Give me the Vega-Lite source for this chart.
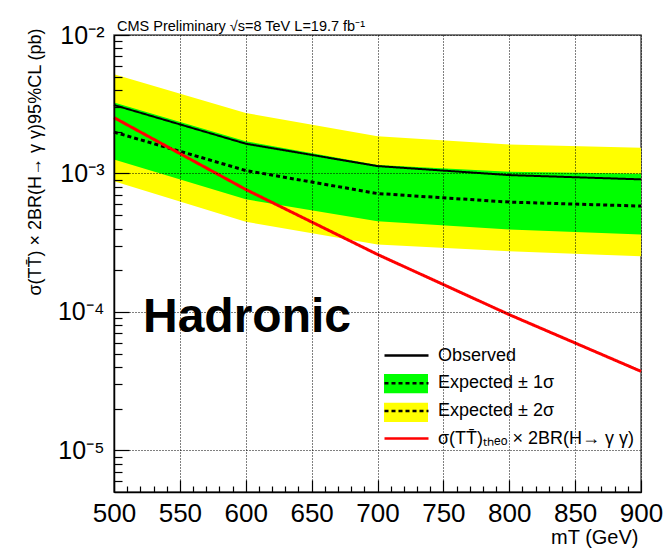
{
  "$schema": "https://vega.github.io/schema/vega-lite/v6.json",
  "width": 527,
  "height": 457,
  "autosize": {"type": "none"},
  "padding": {"left": 114, "top": 35, "right": 23, "bottom": 57},
  "background": "white",
  "config": {
    "font": "Liberation Sans",
    "view": {"stroke": "#555555", "strokeWidth": 1.5},
    "axis": {"labelColor": "black", "titleColor": "black", "titleFontWeight": "normal", "labelFont": "Liberation Sans", "titleFont": "Liberation Sans"}
  },
  "title": {"text": "CMS Preliminary √s=8 TeV L=19.7 fb⁻¹", "anchor": "start", "frame": "group", "fontSize": 14.5, "fontWeight": "normal", "color": "black", "dx": 3, "offset": -11},
  "data": {"values": [
    {"mass": 500, "obs": 0.00312, "exp": 0.00199, "m1": 0.00126, "p1": 0.00326, "m2": 0.00088, "p2": 0.0052, "theo": 0.00253},
    {"mass": 600, "obs": 0.00164, "exp": 0.00105, "m1": 0.00065, "p1": 0.00171, "m2": 0.000448, "p2": 0.00273, "theo": 0.000766},
    {"mass": 700, "obs": 0.00113, "exp": 0.000716, "m1": 0.000452, "p1": 0.00115, "m2": 0.000307, "p2": 0.00186, "theo": 0.00026},
    {"mass": 800, "obs": 0.000973, "exp": 0.000621, "m1": 0.000393, "p1": 0.00103, "m2": 0.000274, "p2": 0.00162, "theo": 0.0000955},
    {"mass": 900, "obs": 0.000906, "exp": 0.000581, "m1": 0.000362, "p1": 0.000996, "m2": 0.000252, "p2": 0.00153, "theo": 0.0000372}
  ]},
  "resolve": {"axis": {"x": "independent", "y": "independent"}},
  "layer": [
    {
      "mark": {"type": "area"},
      "encoding": {
        "x": {"field": "mass", "type": "quantitative", "scale": {"domain": [500, 900], "nice": false, "zero": false},
          "axis": {"orient": "bottom", "values": [500, 550, 600, 650, 700, 750, 800, 850, 900], "format": "d", "labelFontSize": 26, "labelPadding": 20, "tickSize": -12, "tickColor": "black", "tickWidth": 1.2, "labelFlush": false, "labelOverlap": false, "grid": true, "gridDash": [1, 2], "gridColor": "black", "gridWidth": 1, "domainColor": "black", "domainWidth": 1.5, "zindex": 1,
            "title": "mT (GeV)", "titleFontSize": 20, "titleAnchor": "end", "titleAlign": "right", "titleX": 524, "titleY": 51, "titleBaseline": "alphabetic"}},
        "y": {"field": "p2", "type": "quantitative", "scale": {"type": "log", "domain": [0.000005, 0.01], "nice": false},
          "axis": {"orient": "left", "values": [0.00001, 0.0001, 0.001, 0.01], "labelExpr": "'10' + (datum.value > 0.005 ? '⁻²' : datum.value > 0.0005 ? '⁻³' : datum.value > 0.00005 ? '⁻⁴' : '⁻⁵')", "labelFontSize": 25, "labelPadding": 25, "tickSize": -15, "tickColor": "black", "tickWidth": 1.2, "labelFlush": false, "labelOverlap": false, "grid": true, "gridDash": [1, 2], "gridColor": "black", "gridWidth": 1, "domainColor": "black", "domainWidth": 1.5, "zindex": 1,
            "title": "σ(TT̄) × 2BR(H→ γ γ)95%CL (pb)", "titleFontSize": 18, "titleAnchor": "end", "titleAlign": "right", "titleAngle": -90, "titleX": -74, "titleY": -7, "titleBaseline": "alphabetic"}},
        "y2": {"field": "m2"},
        "fill": {"datum": "f2", "type": "nominal",
          "scale": {"domain": ["fobs", "f1", "f2", "ftheo"], "range": ["transparent", "#00ff00", "#ffff00", "transparent"]},
          "legend": {"title": null, "orient": "none", "legendX": 283, "legendY": 311, "symbolType": "M-2.75,-1.2H2.75V1.2H-2.75Z", "symbolSize": 256, "symbolStrokeWidth": 0, "symbolStrokeColor": "transparent", "labelFontSize": 18, "labelOffset": 22, "rowPadding": 8.7, "labelOpacity": 0, "labelExpr": "''", "zindex": 1}}
      }
    },
    {
      "mark": {"type": "area"},
      "encoding": {
        "x": {"field": "mass", "type": "quantitative",
          "axis": {"orient": "bottom", "values": [510, 520, 530, 540, 560, 570, 580, 590, 610, 620, 630, 640, 660, 670, 680, 690, 710, 720, 730, 740, 760, 770, 780, 790, 810, 820, 830, 840, 860, 870, 880, 890], "labels": false, "tickSize": -6, "tickColor": "black", "tickWidth": 1.2, "domain": false, "grid": false, "title": null, "zindex": 1}},
        "y": {"field": "p1", "type": "quantitative",
          "axis": {"orient": "left", "values": [0.000006, 0.000007, 0.000008, 0.000009, 0.00002, 0.00003, 0.00004, 0.00005, 0.00006, 0.00007, 0.00008, 0.00009, 0.0002, 0.0003, 0.0004, 0.0005, 0.0006, 0.0007, 0.0008, 0.0009, 0.002, 0.003, 0.004, 0.005, 0.006, 0.007, 0.008, 0.009], "labels": false, "tickSize": -8, "tickColor": "black", "tickWidth": 1.2, "domain": false, "grid": false, "title": null, "zindex": 1}},
        "y2": {"field": "m1"},
        "fill": {"datum": "f1", "type": "nominal"}
      }
    },
    {
      "mark": {"type": "line", "strokeWidth": 2},
      "encoding": {
        "x": {"field": "mass", "type": "quantitative", "axis": null},
        "y": {"field": "obs", "type": "quantitative", "axis": null},
        "stroke": {"datum": "obs", "type": "nominal",
          "scale": {"domain": ["obs", "exp1", "exp2", "theo"], "range": ["black", "black", "black", "#ff0000"]},
          "legend": {"title": null, "orient": "none", "legendX": 283, "legendY": 311, "symbolType": "M-2.75,0H2.75", "symbolSize": 256, "symbolStrokeWidth": 2.5, "symbolFillColor": "transparent", "labelFontSize": 18, "labelColor": "black", "labelFont": "Liberation Sans", "labelOffset": 22, "rowPadding": 8.7, "labelLimit": 400, "zindex": 2,
            "labelExpr": "datum.value == 'obs' ? 'Observed' : datum.value == 'exp1' ? 'Expected ± 1σ' : datum.value == 'exp2' ? 'Expected ± 2σ' : 'σ(TT̄)ₜₕₑₒ × 2BR(H→ γ γ)'"}},
        "strokeDash": {"datum": "obs", "type": "nominal",
          "scale": {"domain": ["obs", "exp1", "exp2", "theo"], "range": [[1, 0], [4, 3], [4, 3], [1, 0]]},
          "legend": {"title": null, "orient": "none", "legendX": 283, "legendY": 311, "symbolType": "M-2.75,0H2.75", "symbolSize": 256, "symbolStrokeWidth": 2.5, "symbolFillColor": "transparent", "labelFontSize": 18, "labelColor": "black", "labelFont": "Liberation Sans", "labelOffset": 22, "rowPadding": 8.7, "labelLimit": 400, "zindex": 2,
            "labelExpr": "datum.value == 'obs' ? 'Observed' : datum.value == 'exp1' ? 'Expected ± 1σ' : datum.value == 'exp2' ? 'Expected ± 2σ' : 'σ(TT̄)ₜₕₑₒ × 2BR(H→ γ γ)'"}}
      }
    },
    {
      "mark": {"type": "line", "strokeWidth": 3},
      "encoding": {
        "x": {"field": "mass", "type": "quantitative", "axis": null},
        "y": {"field": "exp", "type": "quantitative", "axis": null},
        "stroke": {"datum": "exp1", "type": "nominal"},
        "strokeDash": {"datum": "exp1", "type": "nominal"}
      }
    },
    {
      "mark": {"type": "line", "strokeWidth": 3},
      "encoding": {
        "x": {"field": "mass", "type": "quantitative", "axis": null},
        "y": {"field": "theo", "type": "quantitative", "axis": null},
        "stroke": {"datum": "theo", "type": "nominal"},
        "strokeDash": {"datum": "theo", "type": "nominal"}
      }
    },
    {
      "data": {"values": [{"label": "Hadronic"}]},
      "mark": {"type": "text", "align": "left", "baseline": "alphabetic", "fontSize": 48, "fontWeight": "bold", "font": "Liberation Sans", "color": "black"},
      "encoding": {
        "x": {"datum": 522, "type": "quantitative", "axis": null},
        "y": {"datum": 0.000072, "type": "quantitative", "axis": null},
        "text": {"field": "label"}
      }
    }
  ]
}
